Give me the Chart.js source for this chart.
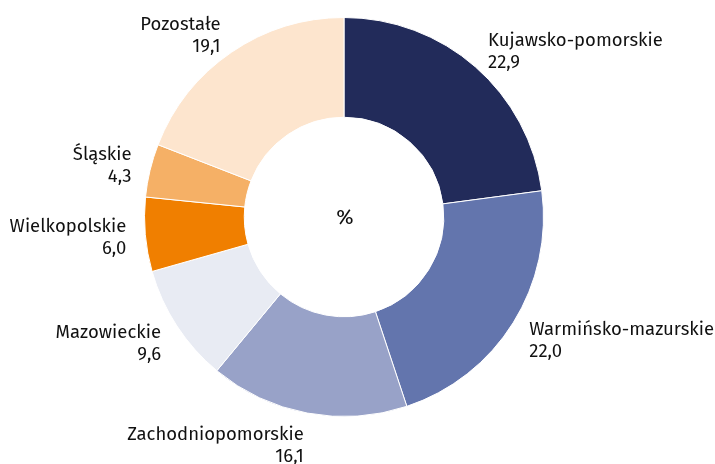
<!DOCTYPE html>
<html>
<head>
<meta charset="utf-8">
<script src="https://cdn.jsdelivr.net/npm/chart.js@4/dist/chart.umd.min.js"></script>
<style>
  html, body { margin: 0; padding: 0; background: #fff; }
  #wrap { width: 715px; height: 464px; }
</style>
</head>
<body>
<div id="wrap"><canvas id="chart" width="715" height="464"></canvas></div>
<script>
// regions and their share, %
const regions = ['Kujawsko-pomorskie', 'Warmińsko-mazurskie', 'Zachodniopomorskie', 'Mazowieckie', 'Wielkopolskie', 'Śląskie', 'Pozostałe'];
const shares = [22.9, 22.0, 16.1, 9.6, 6.0, 4.3, 19.1];
const sliceColors = ['#222b5a', '#6375ad', '#98a2c8', '#e8ebf3', '#f07f00', '#f5b066', '#fde5ce'];
const centerText = '%';

const FONT = '18.5px "Fira Sans", "Noto Sans", sans-serif';
const TEXT_COLOR = '#111111';

// draws the name + value outside each slice, and the % in the hole
const outsideLabels = {
  id: 'outsideLabels',
  afterDraw(chart) {
    const ctx = chart.ctx;
    const meta = chart.getDatasetMeta(0);
    ctx.save();
    ctx.font = FONT;
    ctx.fillStyle = TEXT_COLOR;
    ctx.textBaseline = 'middle';
    meta.data.forEach((arc, i) => {
      const mid = (arc.startAngle + arc.endAngle) / 2;
      const dx = Math.cos(mid), dy = Math.sin(mid);
      // labels below the middle sit a bit further out (two-line block)
      const rx = arc.outerRadius + 19;
      const ry = arc.outerRadius + (dy > 0 ? 33 : 20);
      const x = arc.x + dx * rx;
      const y = arc.y + dy * ry;
      ctx.textAlign = dx >= 0 ? 'left' : 'right';
      const value = shares[i].toFixed(1).replace('.', ',');
      ctx.fillText(regions[i], x, y - 11);
      ctx.fillText(value, x, y + 11);
    });
    const first = meta.data[0];
    ctx.font = '21px "Fira Sans", "Noto Sans", sans-serif';
    ctx.textAlign = 'center';
    ctx.fillText(centerText, first.x + 1, first.y + 1);
    ctx.restore();
  }
};

new Chart(document.getElementById('chart'), {
  type: 'doughnut',
  data: {
    labels: regions,
    datasets: [{
      data: shares,
      backgroundColor: sliceColors,
      borderColor: '#ffffff',
      borderWidth: 1
    }]
  },
  options: {
    responsive: false,
    animation: false,
    cutout: '50%',
    layout: { padding: { left: 144, right: 171, top: 17, bottom: 47 } },
    plugins: {
      legend: { display: false },
      tooltip: { enabled: false }
    }
  },
  plugins: [outsideLabels]
});
</script>
</body>
</html>
